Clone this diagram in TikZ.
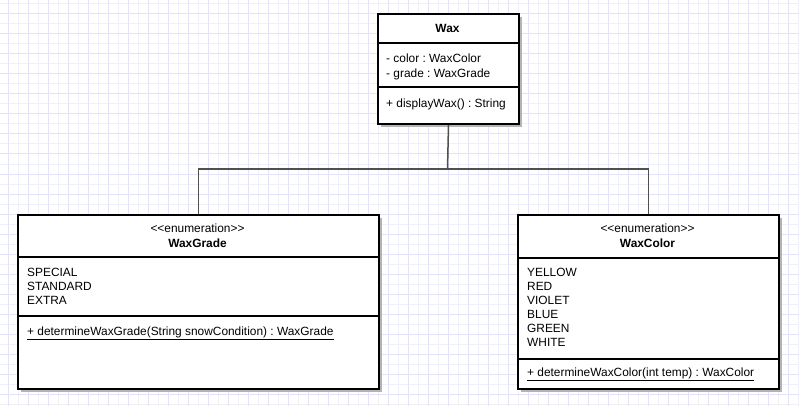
\documentclass[tikz,border=0pt]{standalone}
\usepackage{fontspec}
\setmainfont{Liberation Sans}
\usetikzlibrary{shadows}
\definecolor{GridMinor}{HTML}{F0F0FA}
\definecolor{GridMajor}{HTML}{E2E2FA}
\definecolor{Shade}    {HTML}{B4B4B4}
\definecolor{Link}     {HTML}{505050}
\frenchspacing

\tikzset{
  umlclass/.style={draw, line width=2pt, fill=white, anchor=north west, inner sep=0pt,
                   general shadow={fill=Shade, shadow xshift=3pt, shadow yshift=-3pt}},
  divider/.style={line width=2pt},
  member/.style={anchor=base west, inner sep=0pt, font=\fontsize{11.9}{14}\selectfont},
  stereo/.style={anchor=base, inner sep=0pt, font=\fontsize{11.9}{14}\selectfont},
  title/.style={anchor=base, inner sep=0pt, font=\fontsize{11.9}{14}\selectfont\bfseries},
  link/.style={Link, line width=1.5pt},
}

\begin{document}
\begin{tikzpicture}[x=1pt, y=-1pt]
  \useasboundingbox (0,0) rectangle (799,406);
  % Grid paper
  \fill[white] (0,0) rectangle (799,406);
  \foreach \x in {18,38,...,798} \draw[GridMinor, line width=1pt] (\x,0) -- (\x,406);
  \foreach \y in {4,24,...,404}  \draw[GridMinor, line width=1pt] (0,\y) -- (799,\y);
  \foreach \x in {8,28,...,788}  \draw[GridMajor, line width=1pt] (\x,0) -- (\x,406);
  \foreach \y in {14,34,...,394} \draw[GridMajor, line width=1pt] (0,\y) -- (799,\y);

  % Wax
  \node[umlclass, minimum width=141pt, minimum height=110pt] (wax) at (377,13) {};
  \draw[divider] ([yshift=-30pt]wax.north west) -- ([yshift=-30pt]wax.north east);
  \draw[divider] ([yshift=-74pt]wax.north west) -- ([yshift=-74pt]wax.north east);
  \node[title]  (waxname)  at (447.5,33)  {Wax};
  \node[member] (waxcolor) at (386,62.3)  {- color : WaxColor};
  \node[member] (waxgrade) at (386,77.3)  {- grade : WaxGrade};
  \node[member] (waxshow)  at (386,107.3) {+ displayWax() : String};

  % WaxGrade
  \node[umlclass, minimum width=361pt, minimum height=174pt] (grade) at (17,214) {};
  \draw[divider] ([yshift=-43pt]grade.north west)  -- ([yshift=-43pt]grade.north east);
  \draw[divider] ([yshift=-102pt]grade.north west) -- ([yshift=-102pt]grade.north east);
  \node[stereo] (gradestereo) at (197.5,232.5) {<{}<enumeration>{}>};
  \node[title]  (gradename)   at (197.5,247)   {WaxGrade};
  \foreach \lbl [count=\i] in {SPECIAL,STANDARD,EXTRA}
    \node[member] (grade\i) at (27,262.7+14*\i) {\lbl};
  \node[member] (grademethod) at (27,335) {\underline{+ determineWaxGrade(String snowCondition) : WaxGrade}};

  % WaxColor
  \node[umlclass, minimum width=261pt, minimum height=174pt] (color) at (517,214) {};
  \draw[divider] ([yshift=-44pt]color.north west)  -- ([yshift=-44pt]color.north east);
  \draw[divider] ([yshift=-145pt]color.north west) -- ([yshift=-145pt]color.north east);
  \node[stereo] (colorstereo) at (647.5,232.5) {<{}<enumeration>{}>};
  \node[title]  (colorname)   at (647.5,247)   {WaxColor};
  \foreach \lbl [count=\i] in {YELLOW,RED,VIOLET,BLUE,GREEN,WHITE}
    \node[member] (color\i) at (527,262.7+14*\i) {\lbl};
  \node[member] (colormethod) at (527,376) {\underline{+ determineWaxColor(int temp) : WaxColor}};

  % Links
  \coordinate (hub) at (447.5,169);
  \draw[link] (wax.south) -- (hub);
  \draw[link] (grade.north) |- (hub) -| (color.north);
\end{tikzpicture}
\end{document}
